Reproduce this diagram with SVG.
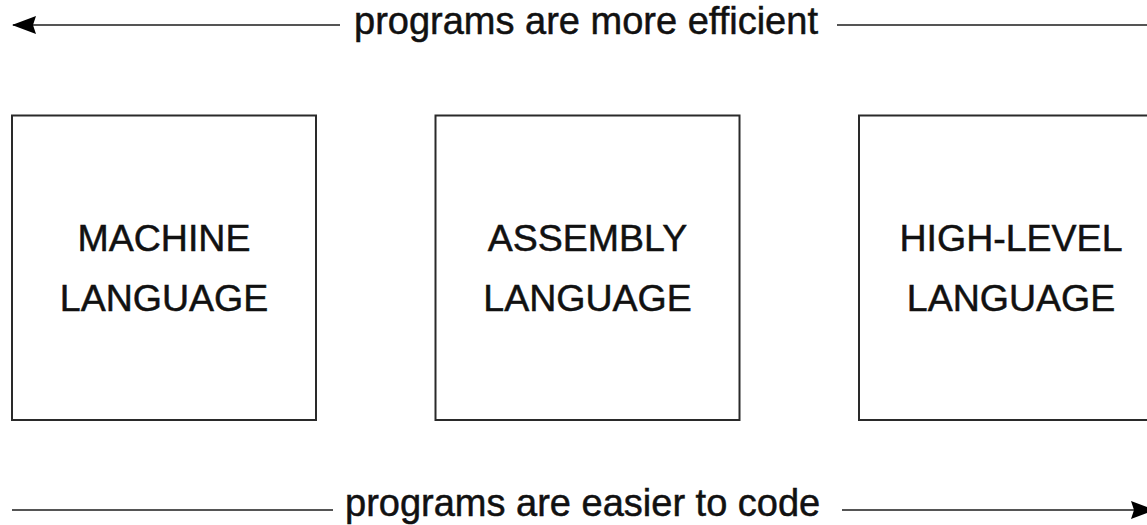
<svg xmlns="http://www.w3.org/2000/svg" width="1147" height="525" viewBox="0 0 1147 525">
<defs>
<style>
.box{fill:#fff;stroke:#2a2a2a;stroke-width:2}
.lbl{font-family:"Liberation Sans",Arial,sans-serif;font-size:37.5px;fill:#111;stroke:#111;stroke-width:0.5;text-anchor:middle}
.cap{font-family:"Liberation Sans",Arial,sans-serif;font-size:38px;fill:#111;stroke:#111;stroke-width:0.5}
.ln{stroke:#555;stroke-width:2.2;fill:none}
</style>
<marker id="ah" viewBox="0 0 24 18" refX="23" refY="9" markerWidth="24" markerHeight="18" markerUnits="userSpaceOnUse" orient="auto">
<path d="M0,0 L24,9 L0,18 L3,9 Z" fill="#000"/>
</marker>
</defs>
<rect width="1147" height="525" fill="#fff"/>
<g id="connectors">
<line class="ln" x1="340" y1="25" x2="13" y2="25" marker-end="url(#ah)"/>
<line class="ln" x1="837" y1="25" x2="1147" y2="25"/>
<line class="ln" x1="12" y1="510" x2="333" y2="510"/>
<line class="ln" x1="842" y1="510" x2="1154" y2="510" marker-end="url(#ah)"/>
<text class="cap" x="354" y="34">programs are more efficient</text>
<text class="cap" x="345" y="516">programs are easier to code</text>
</g>
<g id="machine">
<rect class="box" x="12" y="115.5" width="304" height="304.5"/>
<text class="lbl" x="164" y="251">MACHINE</text>
<text class="lbl" x="164" y="311">LANGUAGE</text>
</g>
<g id="assembly">
<rect class="box" x="435.5" y="115.5" width="304" height="304.5"/>
<text class="lbl" x="587.5" y="251">ASSEMBLY</text>
<text class="lbl" x="587.5" y="311">LANGUAGE</text>
</g>
<g id="highlevel">
<rect class="box" x="859" y="115.5" width="304" height="304.5"/>
<text class="lbl" x="1011" y="251">HIGH-LEVEL</text>
<text class="lbl" x="1011" y="311">LANGUAGE</text>
</g>
</svg>
